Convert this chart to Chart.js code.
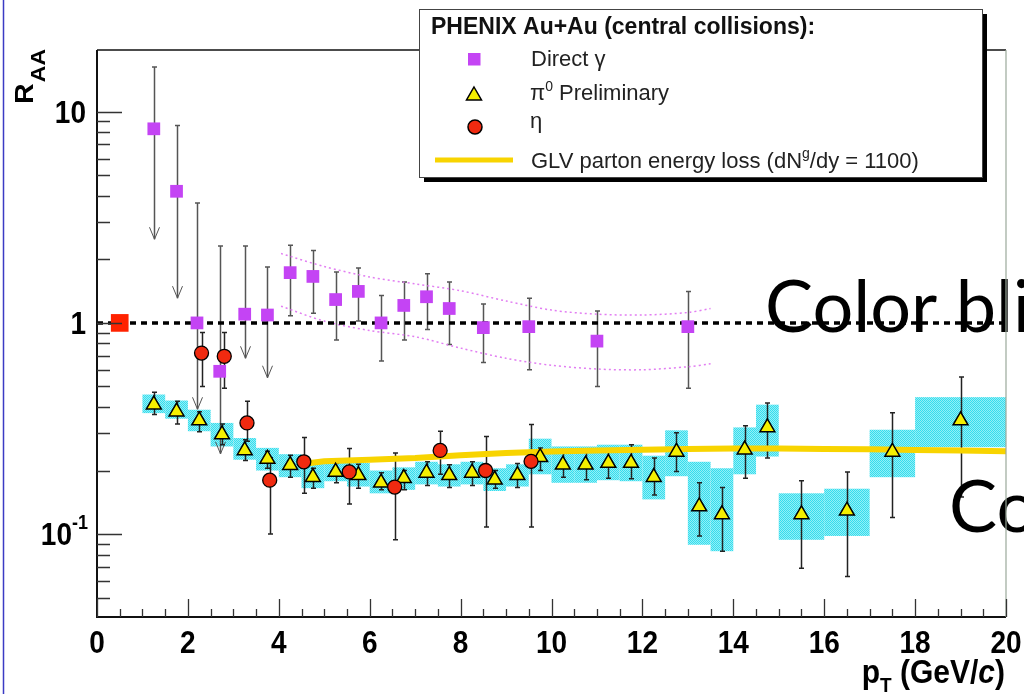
<!DOCTYPE html>
<html>
<head>
<meta charset="utf-8">
<script src="https://cdn.jsdelivr.net/npm/chart.js@4.4.0/dist/chart.umd.min.js"></script>
<style>
  html, body { margin: 0; padding: 0; background: #fff; }
  #marco { width: 1024px; height: 694px; position: relative; overflow: hidden; }
</style>
</head>
<body>
<div id="marco"><canvas id="grafica"></canvas></div>
<script>
// Direct gamma (cuadrados morados)
const gammaX = [1.25, 1.75, 2.2, 2.7, 3.25, 3.75, 4.25, 4.75, 5.25, 5.75, 6.25, 6.75, 7.25, 7.75, 8.5, 9.5, 11, 13];
const gammaY = [8.3, 4.2, 1.0, 0.59, 1.10, 1.09, 1.73, 1.66, 1.29, 1.41, 1.0, 1.21, 1.33, 1.17, 0.95, 0.96, 0.82, 0.96];
const gammaAlto = [16.3, 8.6, 3.7, 2.31, 2.31, 1.84, 2.33, 2.2, 1.74, 1.82, 1.35, 1.56, 1.71, 1.56, 1.23, 1.31, 1.14, 1.41];
const gammaBajo = [2.49, 1.31, 0.39, 0.24, 0.68, 0.55, 1.08, 1.11, 0.83, 1.02, 0.66, 0.83, 0.93, 0.79, 0.65, 0.60, 0.50, 0.49];
const gammaLimite = [true, true, true, true, true, true, false, false, false, false, false, false, false, false, false, false, false, false];

// banda punteada del direct gamma
const bandaX = [4.05, 5, 6, 7, 8, 9, 10, 11, 12, 13, 13.5];
const bandaAlta = [2.13, 1.85, 1.65, 1.53, 1.42, 1.27, 1.15, 1.10, 1.09, 1.12, 1.17];
const bandaBaja = [1.2, 1.02, 0.92, 0.86, 0.76, 0.68, 0.63, 0.605, 0.6, 0.62, 0.64];

// pi0 preliminar (triangulos)
const pi0X = [1.25, 1.75, 2.25, 2.75, 3.25, 3.75, 4.25, 4.75, 5.25, 5.75, 6.25, 6.75, 7.25, 7.75, 8.25, 8.75, 9.25, 9.75, 10.25, 10.75, 11.25, 11.75, 12.25, 12.75, 13.25, 13.75, 14.25, 14.75, 15.5, 16.5, 17.5, 19];
const pi0Y = [0.41, 0.38, 0.345, 0.296, 0.249, 0.227, 0.212, 0.186, 0.197, 0.19, 0.175, 0.184, 0.195, 0.19, 0.195, 0.181, 0.19, 0.231, 0.213, 0.213, 0.217, 0.217, 0.186, 0.245, 0.135, 0.124, 0.251, 0.32, 0.124, 0.129, 0.245, 0.345];
const pi0Alto = [0.47, 0.426, 0.38, 0.332, 0.28, 0.247, 0.236, 0.205, 0.217, 0.214, 0.195, 0.2, 0.22, 0.213, 0.22, 0.2, 0.216, 0.256, 0.249, 0.251, 0.251, 0.265, 0.229, 0.302, 0.175, 0.166, 0.326, 0.418, 0.179, 0.197, 0.375, 0.555];
const pi0Bajo = [0.368, 0.332, 0.305, 0.265, 0.223, 0.205, 0.186, 0.165, 0.175, 0.165, 0.162, 0.162, 0.17, 0.166, 0.17, 0.165, 0.166, 0.2, 0.186, 0.181, 0.184, 0.183, 0.153, 0.198, 0.098, 0.083, 0.184, 0.229, 0.069, 0.063, 0.12, 0.15];
// sistematicos (cajas cian)
const pi0SisAlto = [0.458, 0.429, 0.388, 0.336, 0.285, 0.256, 0.239, 0.22, 0.225, 0.217, 0.2, 0.207, 0.22, 0.214, 0.22, 0.205, 0.214, 0.283, 0.26, 0.26, 0.265, 0.265, 0.235, 0.31, 0.22, 0.205, 0.32, 0.41, 0.156, 0.164, 0.312, 0.445];
const pi0SisBajo = [0.374, 0.352, 0.307, 0.26, 0.225, 0.2, 0.186, 0.165, 0.178, 0.168, 0.156, 0.162, 0.172, 0.168, 0.172, 0.16, 0.168, 0.192, 0.175, 0.175, 0.18, 0.178, 0.146, 0.188, 0.089, 0.083, 0.192, 0.233, 0.094, 0.098, 0.186, 0.258];
const pi0Bin = [0.25, 0.25, 0.25, 0.25, 0.25, 0.25, 0.25, 0.25, 0.25, 0.25, 0.25, 0.25, 0.25, 0.25, 0.25, 0.25, 0.25, 0.25, 0.25, 0.25, 0.25, 0.25, 0.25, 0.25, 0.25, 0.25, 0.25, 0.25, 0.5, 0.5, 0.5, 1.0];

// eta (circulos rojos)
const etaX = [2.3, 2.8, 3.3, 3.8, 4.55, 5.55, 6.55, 7.55, 8.55, 9.55];
const etaY = [0.72, 0.695, 0.336, 0.18, 0.22, 0.197, 0.167, 0.249, 0.2, 0.221];
const etaAlto = [0.9, 0.9, 0.426, 0.23, 0.287, 0.254, 0.242, 0.307, 0.29, 0.33];
const etaBajo = [0.5, 0.49, 0.275, 0.1, 0.156, 0.139, 0.094, 0.192, 0.108, 0.108];

// GLV
const glvX = [4.6, 5, 6, 7, 8, 9, 10, 11, 12, 13, 14, 15, 16, 17, 18, 19, 20];
const glvY = [0.216, 0.221, 0.225, 0.229, 0.236, 0.242, 0.246, 0.249, 0.251, 0.253, 0.254, 0.254, 0.253, 0.252, 0.25, 0.249, 0.247];

// referencia R_AA = 1 y caja roja
const refX = [0, 20];
const refY = [1, 1];
const cajaX = [0.5];
const cajaY = [1];

// ejes
const xMin = 0, xMax = 20;
const yMin = 0.0405, yMax = 19.6;
const xEtiquetas = [0, 2, 4, 6, 8, 10, 12, 14, 16, 18, 20];
const yEtiquetas = [0.1, 1, 10];

const puntos = (xs, ys) => xs.map((v, i) => ({ x: v, y: ys[i] }));

const fuente = "'Liberation Sans', Arial, sans-serif";

function patronCian(ctx) {
  const p = document.createElement("canvas");
  p.width = 2; p.height = 2;
  const g = p.getContext("2d");
  g.fillStyle = "#92f0f6";
  g.fillRect(0, 0, 2, 2);
  g.fillStyle = "#36dcee";
  g.fillRect(0, 0, 1, 1);
  g.fillRect(1, 1, 1, 1);
  return ctx.createPattern(p, "repeat");
}

function barras(ctx, sx, sy, xs, alto, bajo, color, limite) {
  ctx.strokeStyle = color;
  xs.forEach((v, i) => {
    const cx = Math.round(sx.getPixelForValue(v)) + 0.5;
    const yt = sy.getPixelForValue(alto[i]);
    const yb = sy.getPixelForValue(bajo[i]);
    ctx.lineWidth = 1.5;
    ctx.beginPath();
    ctx.moveTo(cx, yt); ctx.lineTo(cx, yb);
    ctx.moveTo(cx - 2.5, yt); ctx.lineTo(cx + 2.5, yt);
    if (!(limite && limite[i])) { ctx.moveTo(cx - 2.5, yb); ctx.lineTo(cx + 2.5, yb); }
    ctx.stroke();
    if (limite && limite[i]) {
      ctx.lineWidth = 1;
      ctx.beginPath();
      ctx.moveTo(cx - 5, yb - 12); ctx.lineTo(cx, yb); ctx.lineTo(cx + 5, yb - 12);
      ctx.stroke();
    }
  });
}

// texto con partes (sub/superindices)
function ricos(ctx, x, y, partes, alinear) {
  let total = 0;
  partes.forEach(p => { ctx.font = p[1]; total += ctx.measureText(p[0]).width; });
  let cx = alinear === "right" ? x - total : x;
  ctx.textAlign = "left";
  ctx.textBaseline = "alphabetic";
  partes.forEach(p => {
    ctx.font = p[1];
    ctx.fillText(p[0], cx, y + (p[2] || 0));
    cx += ctx.measureText(p[0]).width;
  });
  return total;
}

function estirado(ctx, x, y, escala, dibujar) {
  ctx.save();
  ctx.translate(x, y);
  ctx.scale(1, escala);
  dibujar();
  ctx.restore();
}

const decorado = {
  id: "decorado",
  beforeDraw(chart) {
    const ctx = chart.ctx;
    ctx.save();
    ctx.fillStyle = "#fff";
    ctx.fillRect(0, 0, chart.width, chart.height);
    ctx.strokeStyle = "#3b3bc4";
    ctx.lineWidth = 1.5;
    ctx.beginPath();
    ctx.moveTo(3.5, 0); ctx.lineTo(3.5, chart.height);
    ctx.stroke();
    ctx.restore();
  },
  beforeDatasetsDraw(chart) {
    const { ctx, chartArea: a, scales: { x, y } } = chart;
    ctx.save();
    ctx.beginPath();
    ctx.rect(a.left, a.top, a.right - a.left, a.bottom - a.top);
    ctx.clip();
    ctx.fillStyle = patronCian(ctx);
    pi0X.forEach((v, i) => {
      const x0 = x.getPixelForValue(v - pi0Bin[i]);
      const x1 = x.getPixelForValue(v + pi0Bin[i]);
      const y0 = y.getPixelForValue(pi0SisAlto[i]);
      const y1 = y.getPixelForValue(pi0SisBajo[i]);
      ctx.fillRect(x0, y0, x1 - x0, y1 - y0);
    });
    barras(ctx, x, y, gammaX, gammaAlto, gammaBajo, "#555", gammaLimite);
    barras(ctx, x, y, pi0X, pi0Alto, pi0Bajo, "#222");
    barras(ctx, x, y, etaX, etaAlto, etaBajo, "#222");
    ctx.restore();
  },
  afterDraw(chart) {
    const { ctx, chartArea: a, scales: { x, y } } = chart;
    ctx.save();

    // texto grande de la diapositiva
    ctx.fillStyle = "#000";
    ctx.font = "72px Lato, 'Noto Sans', sans-serif";
    ctx.textAlign = "left";
    ctx.textBaseline = "alphabetic";
    ctx.fillText("Color bli", 765, 332);
    ctx.fillText("Co", 949, 532);

    // marco
    ctx.strokeStyle = "#111";
    ctx.lineWidth = 2;
    ctx.beginPath();
    ctx.moveTo(a.left, a.top); ctx.lineTo(a.left, a.bottom); ctx.lineTo(a.right, a.bottom);
    ctx.stroke();
    ctx.lineWidth = 1.5;
    ctx.beginPath();
    ctx.moveTo(a.left, a.top); ctx.lineTo(a.right, a.top);
    ctx.stroke();
    ctx.strokeStyle = "#9aa89a";
    ctx.lineWidth = 1.2;
    ctx.beginPath();
    ctx.moveTo(a.right, a.top); ctx.lineTo(a.right, a.bottom);
    ctx.stroke();

    // marcas del eje x
    ctx.strokeStyle = "#333";
    ctx.lineWidth = 1.3;
    ctx.beginPath();
    for (let v = xMin; v <= xMax; v += 0.5) {
      const px = Math.round(x.getPixelForValue(v)) + 0.5;
      const largo = v % 2 === 0 ? 18 : 8;
      ctx.moveTo(px, a.bottom); ctx.lineTo(px, a.bottom - largo);
    }
    // marcas del eje y (log)
    for (let d = -2; d <= 1; d++) {
      for (let m = 1; m <= 9; m++) {
        const v = m * Math.pow(10, d);
        if (v < yMin || v > yMax) continue;
        const py = Math.round(y.getPixelForValue(v)) + 0.5;
        const largo = m === 1 ? 25 : 13;
        ctx.moveTo(a.left, py); ctx.lineTo(a.left + largo, py);
      }
    }
    ctx.stroke();

    // etiquetas
    ctx.fillStyle = "#000";
    const negrita = n => "bold " + n + "px " + fuente;
    xEtiquetas.forEach(v => {
      const px = x.getPixelForValue(v);
      estirado(ctx, px, 653, 1.15, () => {
        ctx.font = negrita(28);
        ctx.textAlign = "center";
        ctx.textBaseline = "alphabetic";
        ctx.fillText(String(v), 0, 0);
      });
    });
    yEtiquetas.forEach(v => {
      const py = y.getPixelForValue(v);
      estirado(ctx, 0, py + 11, 1.13, () => {
        if (v === 0.1) {
          ricos(ctx, 88, 0, [["10", negrita(28)], ["-1", negrita(18), -14]], "right");
        } else {
          ctx.font = negrita(28);
          ctx.textAlign = "right";
          ctx.fillText(String(v), 86, 0);
        }
      });
    });

    // titulos de ejes
    ctx.save();
    ctx.translate(33, 104);
    ctx.rotate(-Math.PI / 2);
    ctx.scale(1.1, 1);
    ctx.font = negrita(26);
    ctx.textAlign = "left";
    ctx.fillText("R", 0, 0);
    const anchoR = ctx.measureText("R").width;
    ctx.font = negrita(21);
    ctx.fillText("AA", anchoR + 1, 12);
    ctx.restore();

    estirado(ctx, 0, 683, 1.1, () => {
      ricos(ctx, 1005, 0, [
        ["p", negrita(30)],
        ["T", negrita(19), 8],
        [" (GeV/", negrita(30)],
        ["c", "italic " + negrita(30)],
        [")", negrita(30)]
      ], "right");
    });

    // leyenda
    const lx = 419, ly = 9, lw = 563, lh = 168;
    ctx.fillStyle = "#000";
    ctx.fillRect(lx + 5, ly + lh, lw, 5);
    ctx.fillRect(lx + lw, ly + 5, 5, lh);
    ctx.fillStyle = "#fff";
    ctx.fillRect(lx, ly, lw, lh);
    ctx.strokeStyle = "#444";
    ctx.lineWidth = 1;
    ctx.strokeRect(lx + 0.5, ly + 0.5, lw, lh);

    ctx.fillStyle = "#111";
    ctx.font = negrita(23);
    ctx.textAlign = "left";
    ctx.fillText("PHENIX Au+Au (central collisions):", 431, 34);

    const normal = n => n + "px " + fuente;
    ctx.fillStyle = "#222";
    ctx.font = normal(22);
    ctx.fillText("Direct \u03b3", 531, 66);
    ricos(ctx, 530, 100, [["\u03c0", normal(22)], ["0", normal(14), -9], [" Preliminary", normal(22)]]);
    ctx.font = normal(22);
    ctx.fillText("\u03b7", 530, 128);
    ricos(ctx, 531, 168, [["GLV parton energy loss (dN", normal(22)], ["g", normal(14), -10], ["/dy = 1100)", normal(22)]]);

    // marcadores de la leyenda
    ctx.fillStyle = "#c444f4";
    ctx.fillRect(468, 53, 12.5, 12.5);
    ctx.fillStyle = "#f5ef00";
    ctx.strokeStyle = "#000";
    ctx.lineWidth = 1.5;
    ctx.beginPath();
    ctx.moveTo(474, 87); ctx.lineTo(481.5, 100); ctx.lineTo(466.5, 100); ctx.closePath();
    ctx.fill(); ctx.stroke();
    ctx.fillStyle = "#f02a10";
    ctx.beginPath();
    ctx.arc(475, 127, 7, 0, Math.PI * 2);
    ctx.fill(); ctx.stroke();
    ctx.strokeStyle = "#f8d400";
    ctx.lineWidth = 5;
    ctx.beginPath();
    ctx.moveTo(435, 160); ctx.lineTo(513, 160);
    ctx.stroke();

    ctx.restore();
  }
};

new Chart(document.getElementById("grafica"), {
  type: "scatter",
  data: {
    datasets: [
      {
        label: "Caja",
        data: puntos(cajaX, cajaY),
        pointStyle: "rect",
        pointRadius: 12.5,
        backgroundColor: "#ff2200",
        borderWidth: 0,
        order: 0
      },
      {
        label: "eta",
        data: puntos(etaX, etaY),
        pointStyle: "circle",
        pointRadius: 7,
        backgroundColor: "#f02a10",
        borderColor: "#000",
        borderWidth: 1.3,
        order: 1
      },
      {
        label: "pi0",
        data: puntos(pi0X, pi0Y),
        pointStyle: "triangle",
        pointRadius: 8.6,
        backgroundColor: "#f5ef00",
        borderColor: "#000",
        borderWidth: 1.5,
        order: 2
      },
      {
        label: "Direct gamma",
        data: puntos(gammaX, gammaY),
        pointStyle: "rect",
        pointRadius: 9,
        backgroundColor: "#c444f4",
        borderWidth: 0,
        order: 3
      },
      {
        label: "R=1",
        data: puntos(refX, refY),
        showLine: true,
        pointRadius: 0,
        borderColor: "#000",
        borderWidth: 3.5,
        borderDash: [6, 5],
        order: 4
      },
      {
        label: "GLV",
        data: puntos(glvX, glvY),
        showLine: true,
        pointRadius: 0,
        borderColor: "#f8d400",
        borderWidth: 6,
        order: 5
      },
      {
        label: "banda alta",
        data: puntos(bandaX, bandaAlta),
        showLine: true,
        pointRadius: 0,
        borderColor: "#e27ef2",
        borderWidth: 1.5,
        borderDash: [2, 3],
        tension: 0.3,
        order: 6
      },
      {
        label: "banda baja",
        data: puntos(bandaX, bandaBaja),
        showLine: true,
        pointRadius: 0,
        borderColor: "#e27ef2",
        borderWidth: 1.5,
        borderDash: [2, 3],
        tension: 0.3,
        order: 7
      }
    ]
  },
  options: {
    responsive: true,
    maintainAspectRatio: false,
    animation: false,
    devicePixelRatio: 1,
    layout: { padding: { left: 97, right: 18, top: 50, bottom: 77 } },
    plugins: {
      legend: { display: false },
      tooltip: { enabled: false }
    },
    scales: {
      x: { type: "linear", min: xMin, max: xMax, display: false },
      y: { type: "logarithmic", min: yMin, max: yMax, display: false }
    }
  },
  plugins: [decorado]
});
</script>
</body>
</html>
